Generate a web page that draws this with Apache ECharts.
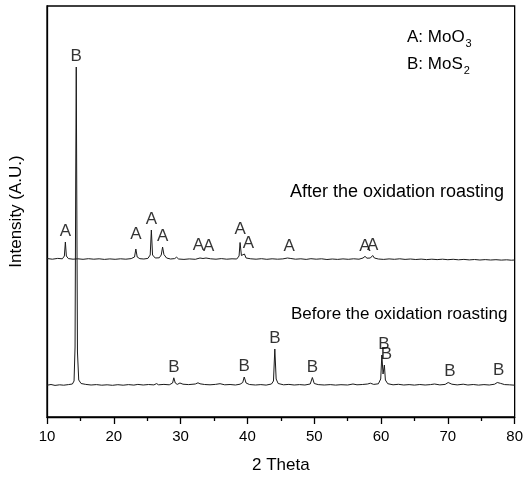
<!DOCTYPE html>
<html>
<head>
<meta charset="utf-8">
<script src="https://cdn.jsdelivr.net/npm/echarts@6/dist/echarts.min.js"></script>
<style>
  html, body { margin: 0; padding: 0; background: #fff; }
  #chart { width: 526px; height: 483px; }
</style>
</head>
<body>
<div id="chart"></div>
<script>
// XRD patterns of the molybdenite concentrate, offset vertically (arbitrary intensity units)
const twoThetaTicks = [10, 20, 30, 40, 50, 60, 70, 80];

// Pattern before roasting: [2θ, intensity]
const beforeRoasting = [
  [10.0, 318], [10.6, 325], [11.2, 316], [11.9, 322], [12.5, 318], [13.2, 324], [13.8, 330],
  [14.05, 360], [14.2, 700], [14.3, 2400], [14.38, 3500], [14.46, 2200], [14.56, 650], [14.75, 370],
  [15.1, 335], [15.8, 326], [16.6, 320], [17.4, 324], [18.2, 318], [19.0, 322], [19.8, 317],
  [20.6, 323], [21.4, 318], [22.2, 324], [23.0, 319], [23.6, 326], [24.4, 320], [25.2, 325],
  [26.0, 321], [26.4, 334], [26.7, 322], [27.5, 326], [28.3, 322], [28.8, 340], [28.98, 392],
  [29.2, 340], [29.5, 326], [29.9, 340], [30.1, 352], [30.35, 328], [31.2, 324], [32.2, 330],
  [32.6, 342], [32.9, 332], [33.6, 325], [34.4, 322], [35.2, 326], [35.9, 333], [36.6, 322],
  [37.4, 325], [38.2, 320], [38.9, 328], [39.3, 345], [39.52, 400], [39.8, 340], [40.3, 325],
  [41.2, 320], [42.0, 324], [42.8, 319], [43.6, 330], [43.9, 360], [44.1, 680], [44.3, 380],
  [44.6, 335], [45.4, 322], [46.2, 326], [47.0, 320], [47.8, 324], [48.6, 320], [49.4, 330],
  [49.72, 395], [50.0, 335], [50.6, 324], [51.5, 320], [52.4, 324], [53.2, 319], [54.0, 323],
  [55.0, 320], [55.8, 330], [56.4, 322], [57.2, 325], [58.0, 330], [58.4, 338], [58.9, 326],
  [59.6, 332], [59.95, 380], [60.12, 620], [60.3, 430], [60.5, 520], [60.65, 370], [61.0, 333],
  [61.8, 322], [62.6, 327], [63.4, 320], [64.2, 324], [65.0, 319], [65.8, 325], [66.6, 320],
  [67.4, 324], [68.0, 330], [68.8, 321], [69.6, 326], [70.05, 345], [70.3, 355], [70.6, 328],
  [71.4, 321], [72.3, 328], [73.0, 320], [73.8, 325], [74.6, 319], [75.4, 324], [76.2, 320],
  [77.0, 328], [77.4, 345], [77.6, 365], [77.9, 336], [78.5, 324], [79.2, 322], [80.0, 318]
];

// Pattern after the oxidation roasting: [2θ, intensity]
const afterRoasting = [
  [10.0, 1585], [10.8, 1578], [11.6, 1586], [12.3, 1582], [12.6, 1610], [12.75, 1750], [12.9, 1610],
  [13.2, 1584], [13.9, 1578], [14.6, 1582], [15.4, 1577], [16.2, 1583], [17.0, 1578], [17.8, 1582],
  [18.6, 1576], [19.4, 1581], [20.2, 1577], [21.0, 1582], [21.8, 1578], [22.6, 1584], [23.1, 1600],
  [23.3, 1680], [23.5, 1600], [23.9, 1583], [24.5, 1580], [25.1, 1586], [25.45, 1620], [25.62, 1870],
  [25.8, 1620], [26.2, 1590], [26.8, 1592], [27.1, 1620], [27.3, 1700], [27.5, 1625], [27.9, 1590],
  [28.5, 1580], [29.1, 1584], [29.4, 1598], [29.7, 1580], [30.5, 1576], [31.3, 1581], [32.2, 1577],
  [32.9, 1590], [33.1, 1608], [33.35, 1585], [33.6, 1605], [33.8, 1590], [34.5, 1582], [35.3, 1578],
  [36.1, 1584], [36.9, 1578], [37.7, 1582], [38.4, 1580], [38.75, 1610], [38.9, 1745], [39.1, 1615],
  [39.35, 1605], [39.55, 1630], [39.8, 1590], [40.5, 1582], [41.3, 1578], [42.1, 1583], [42.9, 1577],
  [43.7, 1582], [44.5, 1578], [45.3, 1581], [46.0, 1590], [46.25, 1606], [46.5, 1585], [47.2, 1578],
  [48.0, 1582], [48.8, 1576], [49.5, 1583], [50.3, 1578], [51.1, 1582], [51.9, 1575], [52.7, 1580],
  [53.5, 1576], [54.3, 1581], [55.1, 1577], [55.9, 1582], [56.7, 1578], [57.3, 1590], [57.6, 1606],
  [57.9, 1588], [58.4, 1590], [58.75, 1615], [59.0, 1590], [59.6, 1580], [60.4, 1576], [61.2, 1581],
  [62.0, 1577], [62.8, 1582], [63.6, 1576], [64.4, 1580], [65.2, 1575], [66.0, 1579], [66.8, 1574],
  [67.6, 1578], [68.4, 1574], [69.2, 1578], [70.0, 1573], [70.8, 1577], [71.6, 1572], [72.4, 1576],
  [73.2, 1571], [74.0, 1575], [74.8, 1570], [75.6, 1574], [76.4, 1570], [77.2, 1573], [78.0, 1569],
  [78.8, 1572], [79.5, 1568], [80.0, 1570]
];

// Phase identification of the peaks: [2θ, phase letter]
const beforePeakLabels = [
  [14.38, 'B'], [28.98, 'B'], [39.52, 'B'], [44.1, 'B'], [49.72, 'B'],
  [60.12, 'B'], [60.5, 'B'], [70.3, 'B'], [77.6, 'B']
];
const afterPeakLabels = [
  [12.75, 'A'], [23.3, 'A'], [25.62, 'A'], [27.3, 'A'], [33.1, 'A'], [33.6, 'A'],
  [38.9, 'A'], [39.55, 'A'], [46.25, 'A'], [57.6, 'A'], [58.75, 'A']
];

const patternNames = ['Before the oxidation roasting', 'After the oxidation roasting'];
const phaseKey = [['A: MoO', '3'], ['B: MoS', '2']];

// ---- drawing ----
const FONT = '"Liberation Sans", Arial, sans-serif';
const INK = '#000';

// small pixel nudges so that neighbouring letters do not overlap
const labelNudge = {
  '33.1': [-3, 0], '33.6': [4, 0], '39.55': [4, 0], '60.12': [2, 0], '60.5': [2, 0],
  '23.3': [0, -4], '38.9': [0, -3]
};

function peakTop(pattern, x) {
  let top = -Infinity;
  for (const [d, v] of pattern) {
    if (Math.abs(d - x) <= 0.12 && v > top) top = v;
  }
  return top;
}

function labelData(pattern, peaks) {
  return peaks.map(([x, letter]) => {
    const item = { name: letter, value: [x, peakTop(pattern, x)] };
    const n = labelNudge[String(x)];
    if (n) item.label = { offset: n };
    return item;
  });
}

function labelSeries(pattern, peaks) {
  return {
    type: 'scatter',
    data: labelData(pattern, peaks),
    symbolSize: 0,
    silent: true,
    z: 5,
    label: {
      show: true,
      position: 'top',
      distance: 2,
      formatter: p => p.name,
      fontFamily: FONT,
      fontSize: 17,
      color: INK,
      textBorderWidth: 0
    }
  };
}

const chart = echarts.init(document.getElementById('chart'), null, { renderer: 'canvas' });

const axisLine = { show: true, lineStyle: { color: '#000', width: 1.3 } };

chart.setOption({
  animation: false,
  backgroundColor: '#fff',
  grid: { left: 46, right: 9, top: 6, bottom: 66, show: true, borderColor: '#000', borderWidth: 1.3, backgroundColor: 'transparent' },
  xAxis: {
    type: 'value',
    min: twoThetaTicks[0],
    max: twoThetaTicks[twoThetaTicks.length - 1],
    interval: twoThetaTicks[1] - twoThetaTicks[0],
    name: '2 Theta',
    nameLocation: 'middle',
    nameGap: 40,
    nameTextStyle: { fontFamily: FONT, fontSize: 17, color: INK },
    axisLine: axisLine,
    axisTick: { show: true, inside: false, length: 7, lineStyle: { color: '#000', width: 1.3 } },
    minorTick: { show: true, splitNumber: 2, length: 4, lineStyle: { color: '#000', width: 1.3 } },
    splitLine: { show: false },
    axisLabel: { fontFamily: FONT, fontSize: 15, color: INK, margin: 12 }
  },
  yAxis: {
    type: 'value',
    min: 0,
    max: 4110,
    name: 'Intensity (A.U.)',
    nameLocation: 'middle',
    nameGap: 22,
    nameTextStyle: { fontFamily: FONT, fontSize: 17, color: INK },
    axisLine: axisLine,
    axisTick: { show: false },
    axisLabel: { show: false },
    splitLine: { show: false }
  },
  series: [
    {
      name: patternNames[0],
      type: 'line',
      data: beforeRoasting,
      showSymbol: false,
      lineStyle: { color: '#1a1a1a', width: 1 },
      z: 3
    },
    {
      name: patternNames[1],
      type: 'line',
      data: afterRoasting,
      showSymbol: false,
      lineStyle: { color: '#1a1a1a', width: 1 },
      z: 3
    },
    labelSeries(beforeRoasting, beforePeakLabels),
    labelSeries(afterRoasting, afterPeakLabels)
  ],
  graphic: [
    {
      type: 'text', left: 290, top: 183, silent: true,
      style: { text: patternNames[1], font: '18px ' + FONT, fill: INK }
    },
    {
      type: 'text', left: 291, top: 306, silent: true,
      style: { text: patternNames[0], font: '17px ' + FONT, fill: INK }
    },
    ...phaseKey.map((k, i) => ({
      type: 'text', left: 407, top: 26 + i * 27, silent: true,
      style: {
        text: '{m|' + k[0] + '}{s|' + k[1] + '}',
        rich: {
          m: { fontFamily: FONT, fontSize: 17, fill: INK, lineHeight: 22 },
          s: { fontFamily: FONT, fontSize: 11, fill: INK, lineHeight: 22, padding: [12, 0, 0, 1] }
        }
      }
    }))
  ]
});
</script>
</body>
</html>
